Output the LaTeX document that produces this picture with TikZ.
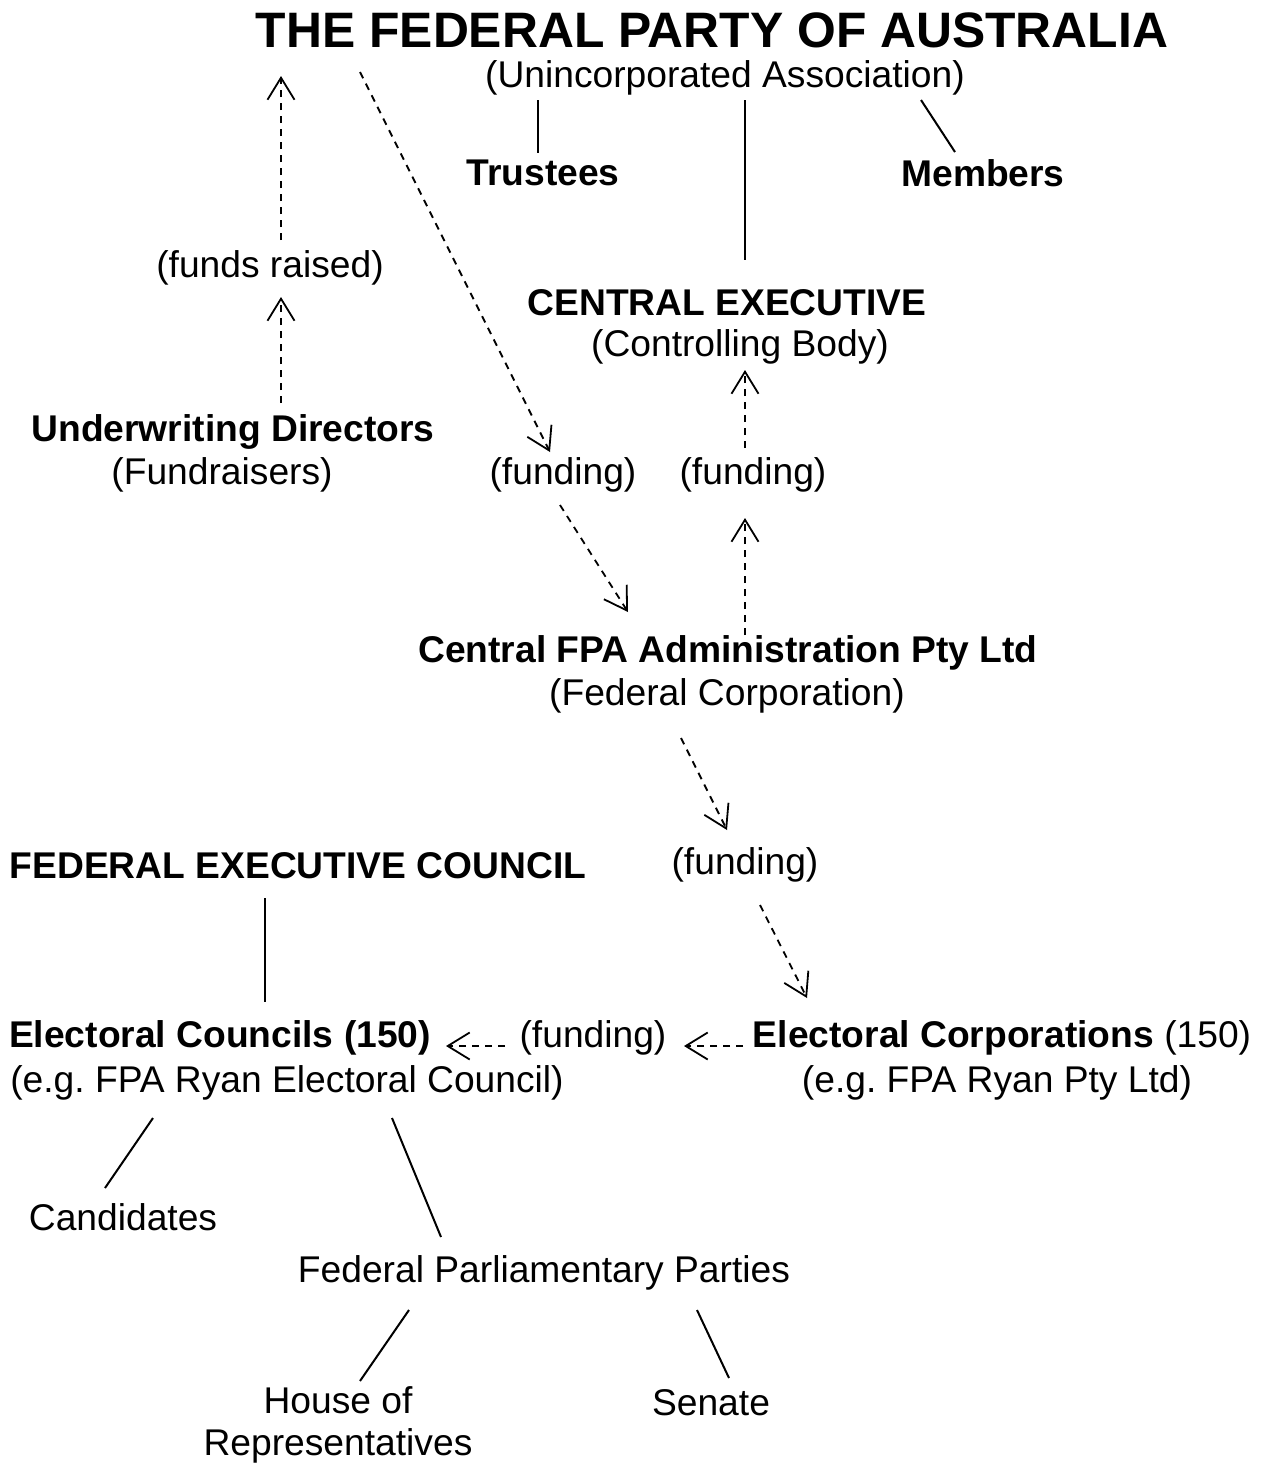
\documentclass[tikz,border=0pt]{standalone}
\usepackage{fontspec}
\setmainfont{Liberation Sans}
\usetikzlibrary{arrows.meta}
\begin{document}
\frenchspacing
\begin{tikzpicture}[x=0.5pt,y=-0.5pt,
  txt/.style={inner sep=0pt,font=\fontsize{18.6}{21}\selectfont},
  btxt/.style={inner sep=0pt,font=\fontsize{18.6}{21}\selectfont\bfseries},
  ttl/.style={inner sep=0pt,font=\fontsize{24.9}{28}\selectfont\bfseries},
  link/.style={line width=1pt},
  fund/.style={line width=0.9pt,dash pattern=on 3.5pt off 3pt,-{Straight Barb[length=11pt,width=13.5pt,line width=0.9pt]}}]
\useasboundingbox (0,0) rectangle (1271,1464);
% nodes
\node[ttl] (title) at (712,30) {THE FEDERAL PARTY OF AUSTRALIA};
\node[txt] (unin) at (725,78) {(Unincorporated Association)};
\node[btxt] (trust) at (543,173) {Trustees};
\node[btxt] (memb) at (983,173) {Members};
\node[txt] (fraised) at (270,268) {(funds raised)};
\node[btxt] (cexec) at (727,303) {CENTRAL EXECUTIVE};
\node[txt] (cbody) at (740,347) {(Controlling Body)};
\node[btxt] (udir) at (233,432) {Underwriting Directors};
\node[txt] (fundr) at (222,475) {(Fundraisers)};
\node[txt] (fundL) at (563,475) {(funding)};
\node[txt] (fundR) at (753,475) {(funding)};
\node[btxt] (cfpa) at (728,653) {Central FPA Administration Pty Ltd};
\node[txt] (fedcorp) at (727,696) {(Federal Corporation)};
\node[txt] (fundM) at (745,865) {(funding)};
\node[btxt] (fec) at (298,866) {FEDERAL EXECUTIVE COUNCIL};
\node[btxt] (ecoun) at (220,1038) {Electoral Councils (150)};
\node[txt] (ecouneg) at (287,1083) {(e.g. FPA Ryan Electoral Council)};
\node[txt] (fundB) at (593,1038) {(funding)};
\node[txt] (ecorp) at (1002,1038) {\textbf{Electoral Corporations} (150)};
\node[txt] (ecorpeg) at (997,1083) {(e.g. FPA Ryan Pty Ltd)};
\node[txt] (cand) at (123,1217) {Candidates};
\node[txt] (fpp) at (544,1273) {Federal Parliamentary Parties};
\node[txt,align=center] (house) at (338,1425) {House of\\Representatives};
\node[txt] (senate) at (711,1403) {Senate};
% solid links
\coordinate (t1) at (538,100); \coordinate (t2) at (538,153);
\draw[link] (t1) -- (t2);
\coordinate (c1) at (745,100); \coordinate (c2) at (745,260);
\draw[link] (c1) -- (c2);
\coordinate (m1) at (921,100); \coordinate (m2) at (955,152);
\draw[link] (m1) -- (m2);
\coordinate (f1) at (265,898); \coordinate (f2) at (265,1002);
\draw[link] (f1) -- (f2);
\coordinate (k1) at (153,1118); \coordinate (k2) at (105,1188);
\draw[link] (k1) -- (k2);
\coordinate (p1) at (392,1118); \coordinate (p2) at (441,1237);
\draw[link] (p1) -- (p2);
\coordinate (h1) at (409,1310); \coordinate (h2) at (360,1381);
\draw[link] (h1) -- (h2);
\coordinate (s1) at (697,1310); \coordinate (s2) at (729,1378);
\draw[link] (s1) -- (s2);
% dashed funding arrows
\coordinate (a1) at (281,240); \coordinate (a2) at (281,76);
\draw[fund] (a1) -- (a2);
\coordinate (b1) at (281,403); \coordinate (b2) at (281,297);
\draw[fund] (b1) -- (b2);
\coordinate (d1) at (360,72); \coordinate (d2) at (550,452);
\draw[fund] (d1) -- (d2);
\coordinate (e1) at (560,505); \coordinate (e2) at (628,612);
\draw[fund] (e1) -- (e2);
\coordinate (g1) at (745,448); \coordinate (g2) at (745,370);
\draw[fund] (g1) -- (g2);
\coordinate (i1) at (745,635); \coordinate (i2) at (745,518);
\draw[fund] (i1) -- (i2);
\coordinate (j1) at (681,738); \coordinate (j2) at (727,830);
\draw[fund] (j1) -- (j2);
\coordinate (l1) at (760,905); \coordinate (l2) at (807,998);
\draw[fund] (l1) -- (l2);
\coordinate (n1) at (505,1046); \coordinate (n2) at (446,1046);
\draw[fund] (n1) -- (n2);
\coordinate (o1) at (743,1046); \coordinate (o2) at (684,1046);
\draw[fund] (o1) -- (o2);
\end{tikzpicture}
\end{document}
